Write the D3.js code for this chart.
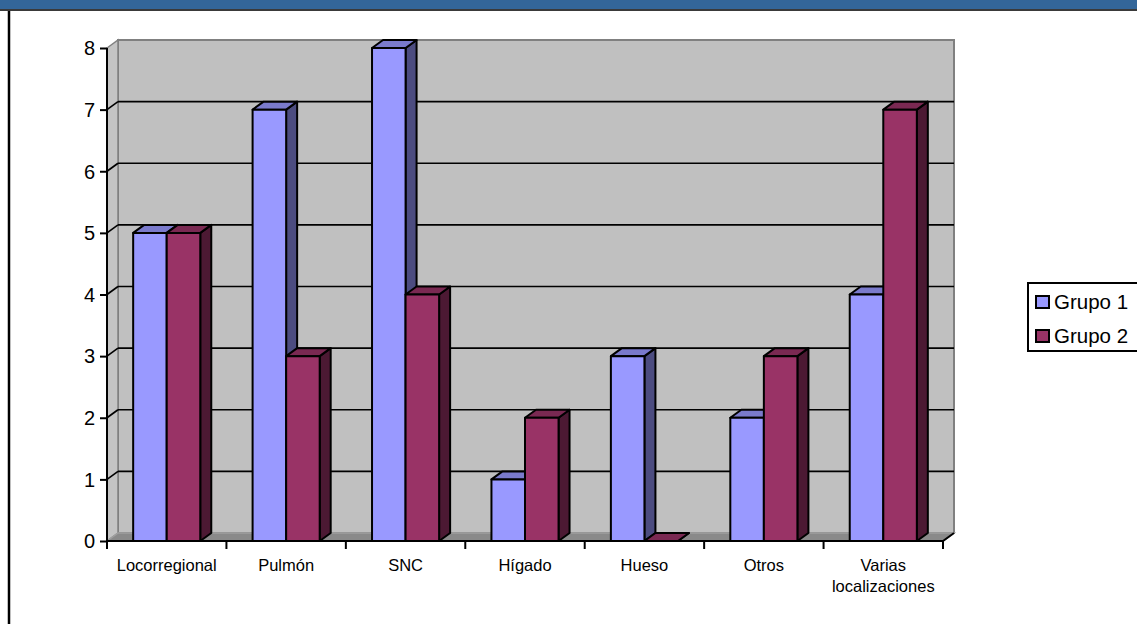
<!DOCTYPE html>
<html>
<head>
<meta charset="utf-8">
<script src="https://cdn.jsdelivr.net/npm/d3@7"></script>
<style>
  html, body { margin: 0; padding: 0; background: #fff; }
  svg { display: block; font-family: Arial, "Liberation Sans", sans-serif; }
</style>
</head>
<body>
<svg id="chart" width="1137" height="624"></svg>
<script>
// data
var categories = ['Locorregional', 'Pulmón', 'SNC', 'Hígado', 'Hueso', 'Otros', 'Varias localizaciones'];
var seriesNames = ['Grupo 1', 'Grupo 2'];
var grupo1 = [5, 7, 8, 1, 3, 2, 4];
var grupo2 = [5, 3, 4, 2, 0, 3, 7];
var yTicks = [0, 1, 2, 3, 4, 5, 6, 7, 8];

var colors = {front: ['#9999ff', '#993366'], top: ['#7a7acc', '#7a2952'], side: ['#4c4c80', '#4c1933']};
var depth = {dx: 11, dy: -8};

var svg = d3.select('#chart');

// frame: header strip and left border
svg.append('rect').attr('x', 0).attr('y', 0).attr('width', 1137).attr('height', 9).style('fill', '#336699');
svg.append('line').attr('x1', 0).attr('x2', 1137).attr('y1', 10).attr('y2', 10)
   .style('stroke', '#3a3a3a').style('stroke-width', 2);
svg.append('line').attr('x1', 9).attr('x2', 9).attr('y1', 11).attr('y2', 624)
   .style('stroke', '#000').style('stroke-width', 2.5);

var x0 = d3.scaleBand().domain(categories).range([107, 943]).padding(0);
var x1 = d3.scaleBand().domain(seriesNames).range([0, x0.bandwidth()]).paddingInner(0).paddingOuter(0.78);
var y = d3.scaleLinear().domain([0, 8]).range([541, 48]);

var dx = depth.dx, dy = depth.dy;
var xL = x0.range()[0], xR = x0.range()[1];
var yT = y(8), yB = y(0);

var walls = svg.append('g').attr('id', 'walls');
// back wall
walls.append('rect').attr('x', xL + dx).attr('y', yT + dy)
     .attr('width', xR - xL).attr('height', yB - yT)
     .style('fill', '#c0c0c0').style('stroke', '#808080').style('stroke-width', 2);
// side wall
walls.append('path')
     .attr('d', d3.line()([[xL, yT], [xL + dx, yT + dy], [xL + dx, yB + dy], [xL, yB]]) + 'Z')
     .style('fill', '#c4c4c4').style('stroke', '#808080').style('stroke-width', 1.5);
// floor
walls.append('path')
     .attr('d', d3.line()([[xL, yB], [xL + dx, yB + dy], [xR + dx, yB + dy], [xR, yB]]) + 'Z')
     .style('fill', '#8a8a8a').style('stroke', '#a0a0a0').style('stroke-width', 1.5);

// gridlines on back wall and side wall
var grid = svg.append('g').attr('id', 'grid');
grid.selectAll('line.h').data(yTicks.filter(function(t){ return t > 0 && t < 8; }))
    .enter().append('line').attr('class', 'h')
    .attr('x1', xL + dx).attr('x2', xR + dx)
    .attr('y1', function(t){ return y(t) + dy; }).attr('y2', function(t){ return y(t) + dy; })
    .style('stroke', '#000').style('stroke-width', 1.6);
grid.selectAll('line.d').data(yTicks.filter(function(t){ return t > 0 && t < 8; }))
    .enter().append('line').attr('class', 'd')
    .attr('x1', xL).attr('x2', xL + dx)
    .attr('y1', function(t){ return y(t); }).attr('y2', function(t){ return y(t) + dy; })
    .style('stroke', '#000').style('stroke-width', 1.6);

// y axis
var yAxis = d3.axisLeft(y).tickValues(yTicks).tickSize(7).tickPadding(5).tickFormat(d3.format('d'));
var yg = svg.append('g').attr('id', 'yaxis').attr('transform', 'translate(' + xL + ',0)').call(yAxis);
yg.select('.domain').style('stroke', '#000').style('stroke-width', 2).attr('d', 'M0,' + yT + 'V' + yB);
yg.selectAll('.tick line').style('stroke', '#000').style('stroke-width', 2);
yg.selectAll('.tick text').style('font-size', '20px').style('fill', '#000').attr('dy', '0.34em');

// bars
var rows = [];
categories.forEach(function(c, i){
  rows.push({cat: c, s: 0, v: grupo1[i]});
  rows.push({cat: c, s: 1, v: grupo2[i]});
});
var bw = x1.bandwidth();
var bars = svg.append('g').attr('id', 'bars').selectAll('g').data(rows).enter().append('g')
   .each(function(d){
     var g = d3.select(this);
     var bx = x0(d.cat) + x1(seriesNames[d.s]);
     var by = y(d.v);
     var line = d3.line();
     g.append('path')
      .attr('d', line([[bx + bw, by], [bx + bw + dx, by + dy], [bx + bw + dx, yB + dy], [bx + bw, yB]]) + 'Z')
      .style('fill', colors.side[d.s]);
     g.append('path')
      .attr('d', line([[bx, by], [bx + dx, by + dy], [bx + bw + dx, by + dy], [bx + bw, by]]) + 'Z')
      .style('fill', colors.top[d.s]);
     if (d.v > 0) {
       g.append('rect').attr('x', bx).attr('y', by).attr('width', bw).attr('height', yB - by)
        .style('fill', colors.front[d.s]);
     }
     g.selectAll('path, rect').style('stroke', '#000').style('stroke-width', 2).style('stroke-linejoin', 'round');
   });

// x axis
var xg = svg.append('g').attr('id', 'xaxis');
xg.append('path').attr('d', 'M' + xL + ',' + yB + 'H' + xR + 'L' + (xR + dx) + ',' + (yB + dy))
  .style('fill', 'none').style('stroke', '#000').style('stroke-width', 2);
var bounds = categories.map(function(c){ return x0(c); }).concat([xR]);
xg.selectAll('line').data(bounds).enter().append('line')
  .attr('x1', function(b){ return b; }).attr('x2', function(b){ return b; })
  .attr('y1', yB).attr('y2', yB + 8)
  .style('stroke', '#000').style('stroke-width', 2);
xg.selectAll('text').data(categories).enter().append('text')
  .attr('x', function(c){ return x0(c) + x0.bandwidth() / 2; })
  .attr('y', 571)
  .style('font-size', '16.5px').style('fill', '#000').style('text-anchor', 'middle')
  .each(function(c){
    var t = d3.select(this), words = c.split(' '), lines = [], cur = '';
    words.forEach(function(w){
      var test = cur ? cur + ' ' + w : w;
      t.text(test);
      if (cur && this.getComputedTextLength() > x0.bandwidth() - 8) { lines.push(cur); cur = w; }
      else cur = test;
    }, this);
    lines.push(cur);
    t.text(null);
    lines.forEach(function(l, k){
      t.append('tspan').attr('x', t.attr('x')).attr('dy', k ? 21 : 0).text(l);
    });
  });

// legend
var lg = svg.append('g').attr('id', 'legend');
lg.append('rect').attr('x', 1028).attr('y', 283).attr('width', 150).attr('height', 68)
  .style('fill', '#fff').style('stroke', '#000').style('stroke-width', 2);
lg.selectAll('g').data(seriesNames).enter().append('g')
  .attr('transform', function(d, i){ return 'translate(1036,' + (296 + i * 34) + ')'; })
  .each(function(d, i){
    d3.select(this).append('rect').attr('width', 13).attr('height', 12)
      .style('fill', colors.front[i]).style('stroke', '#000').style('stroke-width', 2);
    d3.select(this).append('text').text(d).attr('x', 18).attr('y', 13)
      .style('font-size', '20.5px').style('fill', '#000');
  });
</script>
</body>
</html>
